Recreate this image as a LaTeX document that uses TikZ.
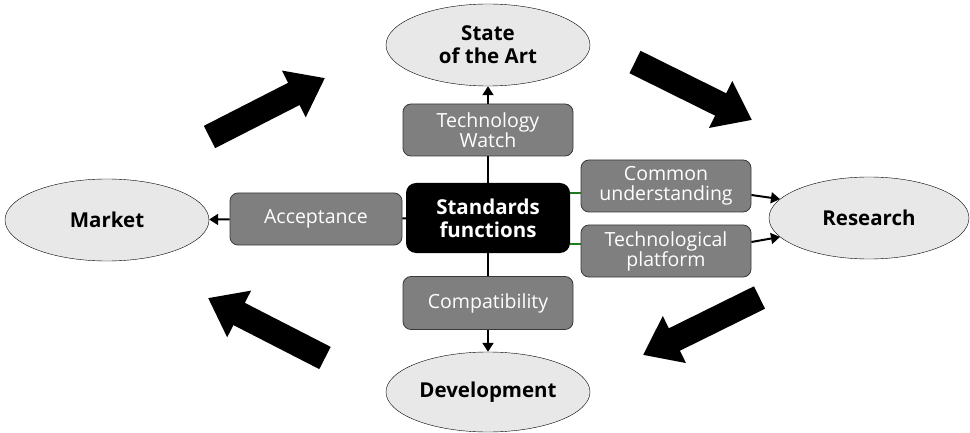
\documentclass[tikz,border=0pt]{standalone}
\usepackage{fontspec}
\setmainfont{Open Sans}
\usetikzlibrary{arrows.meta,shapes.geometric}
\definecolor{ovalgray}{HTML}{E8E8E8}
\definecolor{boxgray}{HTML}{7F7F7F}
\definecolor{boxedge}{HTML}{3A3A3A}
\definecolor{linkgreen}{HTML}{1E7B1E}
\begin{document}
\begin{tikzpicture}[
  x=1pt, y=-1pt,
  oval/.style={ellipse, draw, thin, fill=ovalgray, minimum width=204pt, minimum height=82pt,
    inner sep=0pt, align=center, font=\fontsize{20.5}{23}\selectfont\bfseries},
  func/.style={draw=boxedge, thick, fill=boxgray, rounded corners=8pt, minimum width=170pt,
    minimum height=52pt, inner sep=0pt, align=center, text=white, font=\fontsize{19.5}{20}\selectfont},
  core/.style={fill=black, rounded corners=10pt, minimum width=164pt, minimum height=70pt,
    inner sep=0pt, align=center, text=white, font=\fontsize{20.5}{23}\selectfont\bfseries},
  link/.style={line width=2pt},
  tolink/.style={line width=2pt, -{Triangle[length=9pt,width=11pt]}},
  greenlink/.style={line width=2pt, draw=linkgreen},
  bigarrow/.style={line width=25pt, -{Triangle[length=35pt,width=50pt]}}
]

\useasboundingbox (0,0) rectangle (970,433);

\node[oval] (art) at (488,45) {State\\of the Art};
\node[oval] (market) at (107,220) {Market};
\node[oval, minimum width=200pt] (research) at (869,218) {Research};
\node[oval, minimum height=80pt] (devel) at (488,392) {Development};

\node[core] (std) at (488,218) {Standards\\functions};
\node[func] (watch) at (488,130) {Technology\\Watch};
\node[func, minimum width=172pt] (accept) at (316,219) {Acceptance};
\node[func] (common) at (666,186) {Common\\understanding};
\node[func] (platform) at (666,251) {Technological\\platform};
\node[func, minimum height=53pt] (compat) at (488,303) {Compatibility};

\draw[link] (std) -- (watch);
\draw[tolink] (watch) -- (art);
\draw[link] (std) -- (accept);
\draw[tolink] (accept) -- (market);
\draw[link] (std) -- (compat);
\draw[tolink] (compat) -- (devel);

\coordinate (g1) at ([yshift=-7pt]common.west);
\coordinate (g2) at ([yshift=7pt]platform.west);
\draw[greenlink] (g1 -| std.east) -- (g1);
\draw[greenlink] (g2 -| std.east) -- (g2);
\draw[tolink] ([yshift=-9pt]common.east) -- (research.168);
\draw[tolink] ([yshift=9pt]platform.east) -- (research.192);

\draw[bigarrow] (209.5,137) -- (325,78);
\draw[bigarrow] (635,62) -- (752,120);
\draw[bigarrow] (759.5,297.5) -- (643,355);
\draw[bigarrow] (325,358) -- (208,298);

\end{tikzpicture}
\end{document}
